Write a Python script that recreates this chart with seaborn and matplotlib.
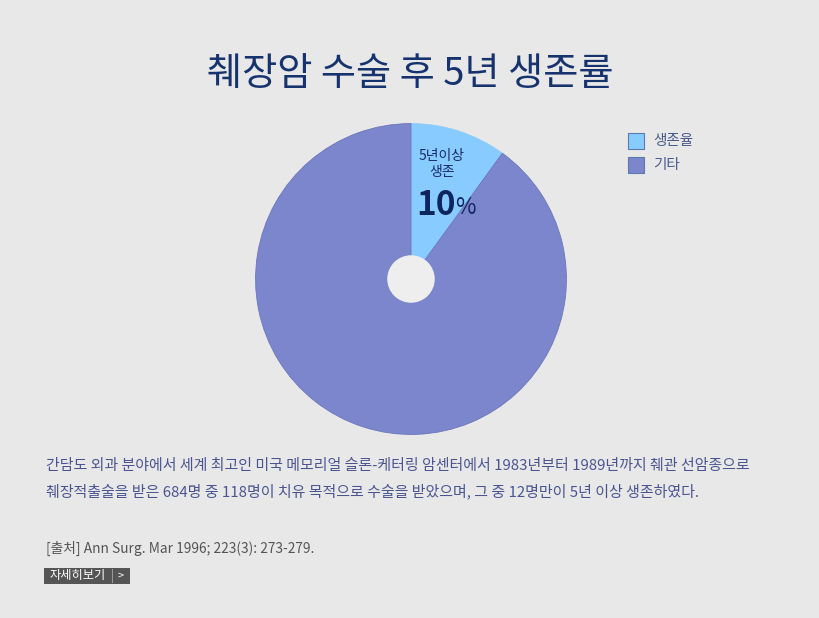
import matplotlib
matplotlib.use('Agg')
import matplotlib.pyplot as plt
import seaborn as sns
from matplotlib.patches import Rectangle, Circle

sns.set_style('white')
plt.rcParams['font.family'] = ['Noto Sans CJK KR', 'DejaVu Sans']

labels = ['생존율', '기타']
values = [10, 90]
colors = ['#88ccff', '#7b86cc']
title = '췌장암 수술 후 5년 생존률'
note_lines = [
    '간담도 외과 분야에서 세계 최고인 미국 메모리얼 슬론-케터링 암센터에서 1983년부터 1989년까지 췌관 선암종으로',
    '췌장적출술을 받은 684명 중 118명이 치유 목적으로 수술을 받았으며, 그 중 12명만이 5년 이상 생존하였다.',
]
source = '[출처] Ann Surg. Mar 1996; 223(3): 273-279.'

W, H = 820, 618
bg = '#e8e8e8'
fig = plt.figure(figsize=(W / 100, H / 100), dpi=100, facecolor=bg)

fig.text(410 / W, 1 - 75 / H, title, ha='center', va='center',
         fontsize=27.5, color='#17336e')

# pie centred at (411, 279) px, radius 157 px
cx, cy, r = 411, 279, 157
ax = fig.add_axes([(cx - r) / W, 1 - (cy + r) / H, 2 * r / W, 2 * r / H])
ax.set_facecolor(bg)
wedges, _ = ax.pie(values, colors=colors, startangle=90, counterclock=False,
                   radius=1, wedgeprops={'linewidth': 0.6, 'edgecolor': '#6b76bb'})
wedges[0].set_edgecolor('#88ccff')
ax.add_patch(Circle((0, 0), 24 / r, facecolor='#eeeeee', edgecolor='none', zorder=5))
ax.set_xlim(-1.01, 1.01)
ax.set_ylim(-1.01, 1.01)
ax.set_aspect('equal')
ax.axis('off')

fig.text(442 / W, 1 - 164 / H, '5년이상\n생존', ha='center', va='center',
         fontsize=10, color='#1a2a6a', linespacing=1.15)
fig.text(436 / W, 1 - 206 / H, '10', ha='center', va='center',
         fontsize=24, fontweight='bold', color='#0f2560')
fig.text(465 / W, 1 - 208 / H, '%', ha='center', va='center',
         fontsize=16, color='#0f2560')

# legend
for i, (lab, col) in enumerate(zip(labels, colors)):
    y = 133 + i * 24
    fig.patches.append(Rectangle((628 / W, 1 - (y + 16) / H), 16 / W, 16 / H,
                                 transform=fig.transFigure, facecolor=col,
                                 edgecolor='#5a7ab0', linewidth=0.8))
    fig.text(653 / W, 1 - (y + 8) / H, lab, ha='left', va='center',
             fontsize=10.5, color='#4a5a8a')

for i, line in enumerate(note_lines):
    fig.text(46 / W, 1 - (466 + i * 25) / H, line, ha='left', va='center',
             fontsize=10.8, color='#4a5590')

fig.text(46 / W, 1 - 548 / H, source, ha='left', va='center',
         fontsize=9.9, color='#555555')

# button
fig.patches.append(Rectangle((44 / W, 1 - 584 / H), 86 / W, 16 / H,
                             transform=fig.transFigure, facecolor='#555555',
                             edgecolor='none'))
fig.patches.append(Rectangle((112 / W, 1 - 583 / H), 1 / W, 14 / H,
                             transform=fig.transFigure, facecolor='#999999',
                             edgecolor='none'))
fig.text(78 / W, 1 - 576 / H, '자세히보기', ha='center', va='center',
         fontsize=8.8, color='white')
fig.text(121 / W, 1 - 576 / H, '>', ha='center', va='center',
         fontsize=8, color='white')

fig.savefig('out.png', dpi=100, facecolor=bg)
